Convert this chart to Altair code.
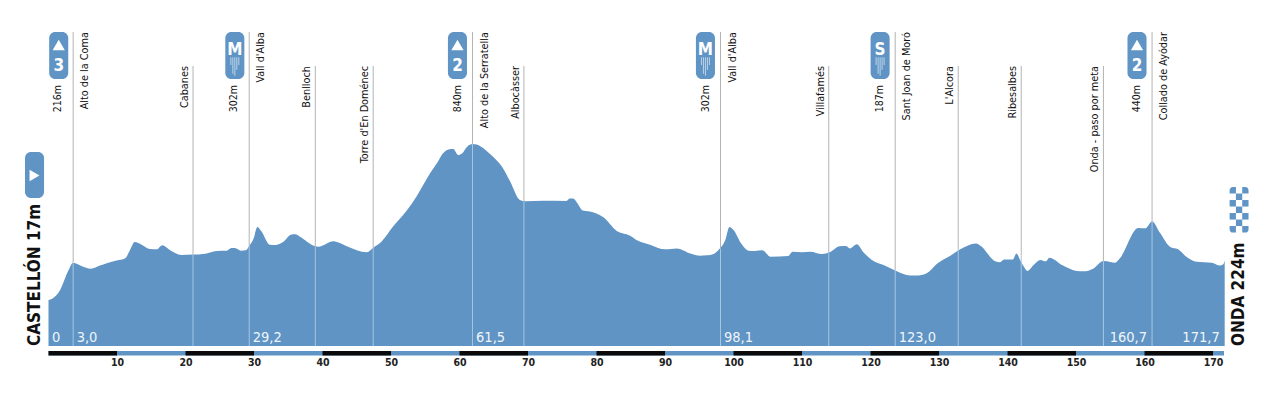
import altair as alt
import pandas as pd

km = [0.0,0.6,1.7,2.9,3.6,4.8,6.2,7.5,8.5,9.95,11.2,11.9,12.6,13.6,14.8,15.8,16.6,17.7,19.4,21.1,22.6,24.6,26.0,26.7,27.2,28.1,28.8,29.3,29.9,30.5,31.1,32.3,33.1,34.3,35.4,36.0,36.7,38.9,39.4,41.6,42.1,43.8,46.4,47.4,48.6,50.3,52.3,53.7,55.7,56.7,57.6,58.4,59.1,59.8,60.4,61.1,61.9,62.5,63.7,64.9,66.2,67.4,68.8,69.6,72.2,75.6,76.1,76.6,77.1,78.0,78.8,81.0,82.9,84.9,85.9,87.8,90.0,91.7,93.7,95.1,96.1,97.1,98.0,98.8,99.4,100.0,101.2,102.2,103.1,104.2,105.4,108.0,108.6,110.0,111.2,112.9,114.1,115.5,116.4,117.0,118.0,118.9,120.2,121.9,123.6,125.8,127.0,128.2,129.7,131.6,133.1,135.4,136.1,138.2,138.9,139.5,140.8,141.3,141.8,142.4,142.9,143.8,144.8,145.6,146.1,148.1,150.1,151.1,152.5,154.0,155.0,155.7,156.4,159.1,160.1,161.1,162.3,163.7,164.9,166.1,167.6,169.8,171.0,171.5,171.7]
ele = [33,41,85,185,226,209,195,211,223,237,249,292,333,319,297,295,316,292,266,268,271,287,288,302,302,288,290,312,347,411,387,319,318,335,371,373,361,312,309,337,333,307,280,304,335,413,496,568,689,741,793,813,815,784,793,827,841,838,813,775,723,646,551,544,547,546,558,558,539,496,492,461,392,366,342,319,295,300,274,262,264,271,299,344,411,395,321,288,287,290,257,261,283,280,283,271,281,311,312,300,321,283,240,214,186,160,160,171,221,261,295,326,313,233,228,242,243,274,243,205,183,214,240,233,252,211,183,181,195,235,230,226,249,406,404,440,378,309,295,257,231,226,211,218,237]

place_names = ["Alto de la Coma","Cabanes","Vall d'Alba","Benlloch","Torre d'En Doménec","Alto de la Serratella","Albocàsser","Vall d'Alba","Villafamés","Sant Joan de Moró","L'Alcora","Ribesalbes","Onda - paso por meta","Collado de Ayódar"]
place_km = [3.6,21.1,29.3,38.95,47.4,61.9,69.4,98.1,113.9,123.6,132.8,142.0,154.0,161.1]
place_top = [1421,1245,1421,1245,1245,1421,1245,1421,1245,1421,1245,1245,1245,1421]
place_base = [226,268,312,310,304,841,544,299,281,186,295,265,235,440]
place_side = [1,-1,1,-1,-1,1,-1,1,-1,1,-1,-1,-1,1]

height_labels = ["216m","302m","840m","302m","187m","440m"]
height_km = [3.6,29.3,61.9,98.1,123.6,161.1]

badge_km = [1.49,27.2,59.7,95.9,121.4,158.9]
badge_kind = ["3","M","2","M","S","2"]

dist_labels = ["0","3,0","29,2","61,5","98,1","123,0","160,7","171,7"]
dist_km = [0.0,3.6,29.3,61.9,98.1,123.6,161.1,171.7]
dist_align = ["left","left","left","left","left","left","right","right"]

black_start = [0,20,40,60,80,100,120,140,160]
black_end = [10,30,50,70,90,110,130,150,170]
tick_values = list(range(10,171,10))

streak_dx = [-0.58,-0.29,0.0,0.29,0.58]
streak_end = [1250,1205,1195,1225,1250]

flag_col = [1,0,2,1,0,2,1]
flag_row = [1,2,2,3,4,4,5]
corner_col = [0,2,0,2]
corner_row = [0,0,6,6]

BLUE = "#5f94c5"
FONT = "DejaVu Sans Condensed"

x_scale = alt.Scale(domain=[0,171.6], nice=False, zero=False, clamp=False)
y_scale = alt.Scale(domain=[-257.5,1483.4], nice=False, zero=False)
X = lambda f="km": alt.X(f"{f}:Q", scale=x_scale, title=None,
    axis=alt.Axis(values=tick_values, domain=False, ticks=False, grid=False, labelFont=FONT,
                  labelFontSize=10.5, labelFontWeight="bold", labelColor="#222222", labelPadding=1, labelFlush=False, labelOverlap=False, format="d"))
Y = lambda f="m": alt.Y(f"{f}:Q", scale=y_scale, title=None, axis=None)

profile = pd.DataFrame({"km":km,"m":ele,"b":[-206]*len(km)})
area = alt.Chart(profile).mark_area(color=BLUE, interpolate="monotone").encode(x=X(), y=Y(), y2="b:Q")

places = pd.DataFrame({"name":place_names,"km":place_km,"top":place_top,"m":place_base,"b":[-206]*14,"side":place_side})
rule_up = alt.Chart(places).mark_rule(color="#b3b3b3", strokeWidth=1).encode(x=X(), y=Y(), y2="top:Q")
rule_in = alt.Chart(places).mark_rule(color="#a9c6e0", strokeWidth=1).encode(x=X(), y=Y(), y2="b:Q")

def side_text(df, dy):
    return alt.Chart(df).mark_text(angle=270, align="right", baseline="middle", font=FONT, fontSize=10.8, color="#111111", clip=False, dy=dy).encode(x=X(), y=Y("top"), text="name:N")
name_r = side_text(places[places.side>0], 12)
name_l = side_text(places[places.side<0], -8)

heights = pd.DataFrame({"km":height_km,"m":[1147]*6,"t":height_labels})
height_t = alt.Chart(heights).mark_text(angle=270, align="right", baseline="middle", font=FONT, fontSize=10.5, color="#111111", dy=-15).encode(x=X(), y=Y(), text="t:N")

badges = pd.DataFrame({"km":badge_km+[-2.04],"x0":[k-1.39 for k in badge_km]+[-3.43],"x1":[k+1.39 for k in badge_km]+[-0.65],
                       "y0":[1421]*6+[800],"y1":[1178]*6+[561]})
badge_r = alt.Chart(badges).mark_rect(color=BLUE, cornerRadius=6, clip=False).encode(x=X("x0"), x2="x1:Q", y=Y("y0"), y2="y1:Q")

tri_km = [k for k,b in zip(badge_km,badge_kind) if b.isdigit()]
tri = alt.Chart(pd.DataFrame({"km":tri_km,"m":[1354]*3})).mark_point(shape="triangle-up", filled=True, color="white", opacity=1, size=150).encode(x=X(), y=Y())
start_tri = alt.Chart(pd.DataFrame({"km":[-2.04],"m":[678]})).mark_point(shape="triangle-right", filled=True, color="white", opacity=1, size=130, clip=False).encode(x=X(), y=Y())
nums = pd.DataFrame({"km":tri_km,"m":[1218]*3,"t":[b for b in badge_kind if b.isdigit()]})
num_t = alt.Chart(nums).mark_text(font=FONT, fontSize=17, fontWeight="bold", color="white", baseline="alphabetic").encode(x=X(), y=Y(), text="t:N")
let = pd.DataFrame({"km":[k for k,b in zip(badge_km,badge_kind) if not b.isdigit()],"m":[1303]*3,"t":[b for b in badge_kind if not b.isdigit()]})
let_t = alt.Chart(let).mark_text(font=FONT, fontSize=17, fontWeight="bold", color="white", baseline="alphabetic").encode(x=X(), y=Y(), text="t:N")
streak_rows = [{"km":c+d,"m":1290,"e":e} for c in let["km"] for d,e in zip(streak_dx,streak_end)]
streak = alt.Chart(pd.DataFrame(streak_rows)).mark_rule(color="#bcd4ea", strokeWidth=1).encode(x=X(), y=Y(), y2="e:Q")

dist = pd.DataFrame({"km":dist_km,"t":dist_labels,"a":dist_align,"m":[-186]*8})
def dist_text(df, dx, align):
    return alt.Chart(df).mark_text(font=FONT, fontSize=14.5, color="#f0f5fa", baseline="alphabetic", align=align, dx=dx).encode(x=X(), y=Y(), text="t:N")
dist_l = dist_text(dist[dist.a=="left"], 3.5, "left")
dist_r = dist_text(dist[dist.a=="right"], -5, "right")

bar_base = alt.Chart(pd.DataFrame({"x0":[0],"x1":[171.6],"y0":[-231],"y1":[-255]})).mark_rect(color=BLUE).encode(x=X("x0"), x2="x1:Q", y=Y("y0"), y2="y1:Q")
bar_black = alt.Chart(pd.DataFrame({"x0":black_start,"x1":black_end,"y0":[-231]*9,"y1":[-255]*9})).mark_rect(color="#0a0a0a").encode(x=X("x0"), x2="x1:Q", y=Y("y0"), y2="y1:Q")

ends = pd.DataFrame({"km":[-2.0,173.8],"m":[-206,-206],"t":["CASTELLÓN 17m","ONDA 224m"]})
end_t = alt.Chart(ends).mark_text(angle=270, align="left", baseline="middle", font=FONT, fontSize=17, fontWeight="bold", color="#111111", clip=False).encode(x=X(), y=Y(), text="t:N")

flag_x = 173.8
cell_km = 0.92
cell_m = 33.7
def flag_cells(cols, rows):
    return pd.DataFrame({"x0":[flag_x-1.38+c*cell_km for c in cols],"x1":[flag_x-1.38+(c+1)*cell_km for c in cols],
                         "y0":[618-r*cell_m for r in rows],"y1":[618-(r+1)*cell_m for r in rows]})
def flag_mark(cols, rows, **corner):
    return alt.Chart(flag_cells(cols, rows)).mark_rect(color=BLUE, clip=False, **corner).encode(x=X("x0"), x2="x1:Q", y=Y("y0"), y2="y1:Q")
flag_r = flag_mark(flag_col, flag_row)
flag_tl = flag_mark(corner_col[:1], corner_row[:1], cornerRadiusTopLeft=5)
flag_tr = flag_mark(corner_col[1:2], corner_row[1:2], cornerRadiusTopRight=5)
flag_bl = flag_mark(corner_col[2:3], corner_row[2:3], cornerRadiusBottomLeft=5)
flag_br = flag_mark(corner_col[3:], corner_row[3:], cornerRadiusBottomRight=5)

chart = alt.layer(area, rule_up, rule_in, bar_base, bar_black, badge_r, tri, start_tri, num_t, let_t, streak, name_r, name_l, height_t, dist_l, dist_r, end_t, flag_r, flag_tl, flag_tr, flag_bl, flag_br).properties(
    width=1175.5, height=336, autosize=alt.AutoSizeParams(type="none"), background="white",
    padding={"left":40.5,"top":12,"right":48,"bottom":29},
).configure_view(stroke=None)
chart.save("out.html", embed_options={"renderer":"svg","actions":False})
